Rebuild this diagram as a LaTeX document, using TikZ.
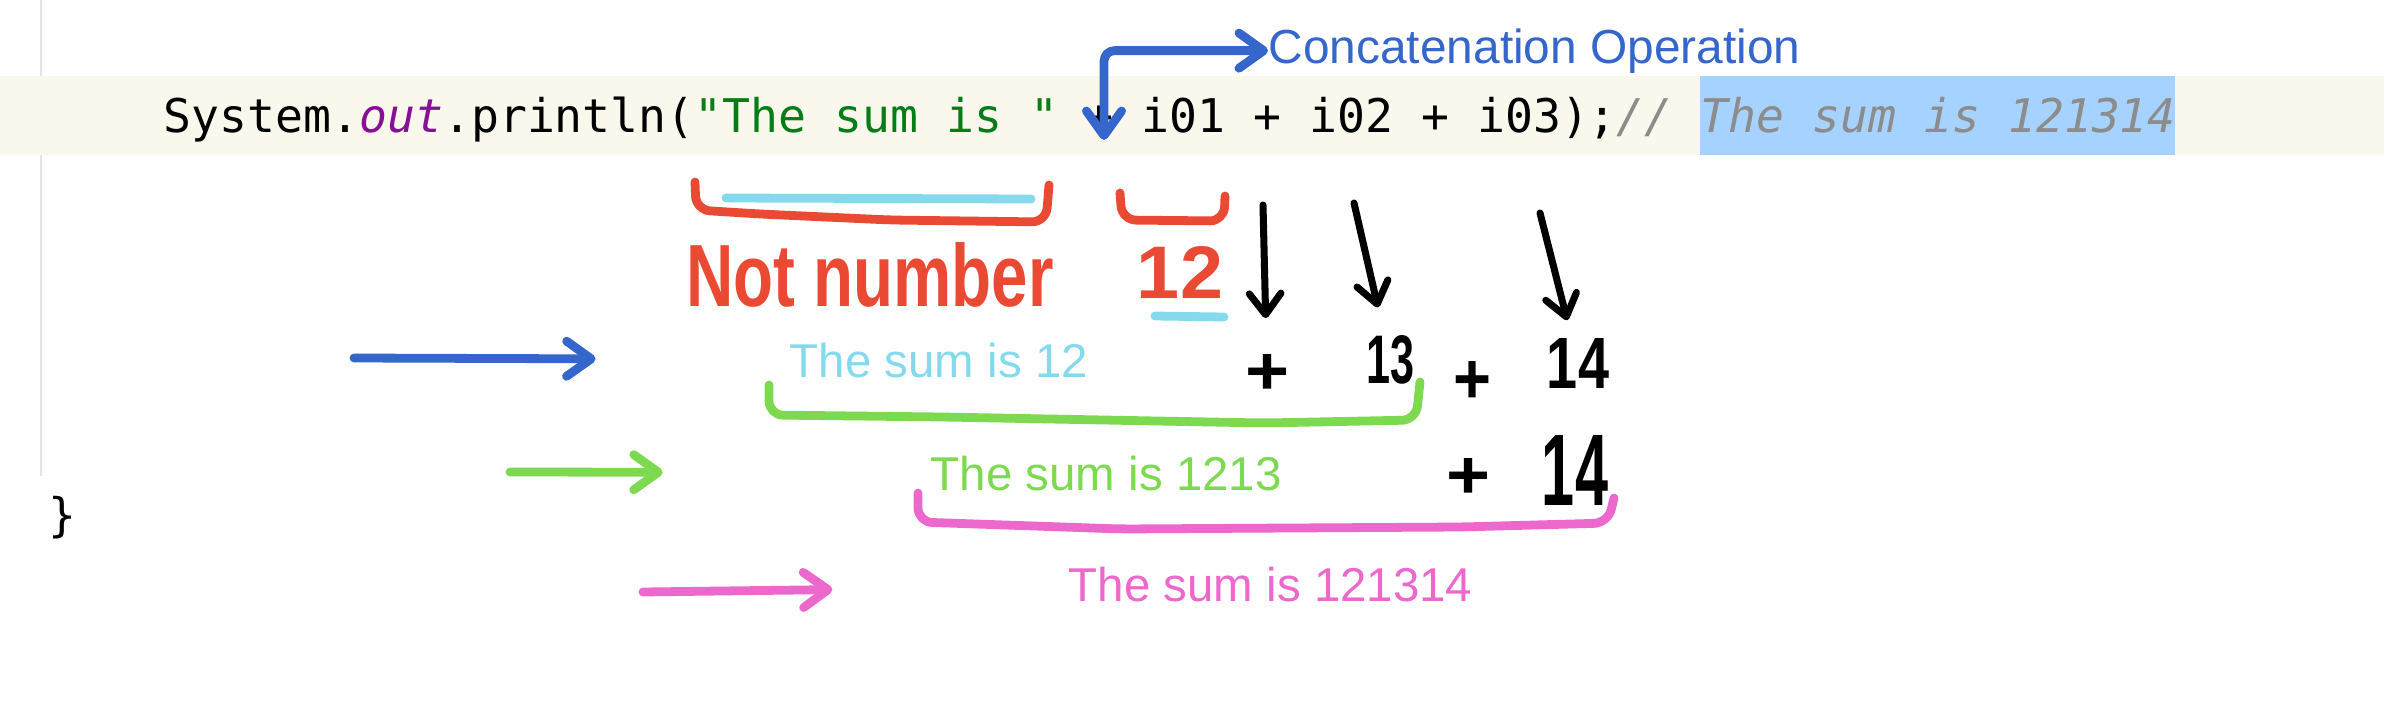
\documentclass[tikz,border=0pt]{standalone}
\usepackage{fontspec}
\setmainfont{Liberation Sans}
\setmonofont{DejaVu Sans Mono}
\usetikzlibrary{arrows.meta}

\definecolor{bandcream}{RGB}{250,248,236}
\definecolor{selblue}{RGB}{166,210,255}
\definecolor{guttergray}{RGB}{228,228,228}
\definecolor{codegreen}{RGB}{6,125,23}
\definecolor{codepurple}{RGB}{135,16,148}
\definecolor{codegray}{RGB}{140,140,140}
\definecolor{markblue}{RGB}{52,102,204}
\definecolor{markred}{RGB}{234,74,52}
\definecolor{markcyan}{RGB}{132,218,236}
\definecolor{markgreen}{RGB}{125,217,80}
\definecolor{markpink}{RGB}{236,104,204}

\begin{document}
\begin{tikzpicture}[
    x=0.01cm, y=-0.01cm,
    % Text styles
    code text/.style={font=\ttfamily\fontsize{13.2pt}{16pt}\selectfont, inner sep=0pt, anchor=base west},
    print label/.style={font=\fontsize{13.5pt}{16pt}\selectfont, inner sep=0pt, anchor=base west},
    hand text/.style={font=\bfseries, inner sep=0pt},
    % Stroke styles
    marker/.style={line width=2.5pt, line cap=round, line join=round},
    marker arrow/.style={marker, -{Straight Barb[round, length=7pt, width=10pt]}},
    pen arrow/.style={line width=2pt, line cap=round, black, -{Straight Barb[round, length=6pt, width=9pt]}},
    bracket/.style={marker, rounded corners=4pt}
]
    \useasboundingbox (0,0) rectangle (2384,712);

    % =========================================================================
    % 1. Editor background
    % =========================================================================
    \draw[guttergray, line width=0.6pt] (41,0) -- (41,476);
    \fill[bandcream] (0,76) rectangle (2384,155);
    \fill[selblue] (1700,76) rectangle (2175,155);

    % =========================================================================
    % 2. Code lines
    % =========================================================================
    \node[code text] (code) at (163,133) {System.\textcolor{codepurple}{\itshape out}.println(\textcolor{codegreen}{"The sum is "} + i01 + i02 + i03);\textcolor{codegray}{\itshape // The sum is 121314}};
    \node[code text] (brace) at (48,531) {\}};

    % =========================================================================
    % 3. Concatenation note
    % =========================================================================
    \node[print label, text=markblue, font=\fontsize{13.6pt}{16pt}\selectfont] (concat) at (1268,63) {Concatenation Operation};
    \coordinate (plus) at (1104,140);
    \draw[marker, markblue, rounded corners=3pt,
          {Straight Barb[round, length=7pt, width=10pt]}-{Straight Barb[round, length=7pt, width=10pt]}]
        (plus) |- (concat.west);

    % =========================================================================
    % 4. Hand notes under the string
    % =========================================================================
    \draw[bracket, markred] (695,182) -- (696,210) -- (760,214) -- (890,220) -- (1046,222) -- (1049,185);
    \draw[marker, markcyan] (726,198) -- (1031,199);
    \draw[bracket, markred] (1120,193) -- (1122,220) -- (1224,221) -- (1225,196);
    \draw[marker, markcyan] (1155,316) -- (1224,317);

    \node[hand text, text=markred] (notnum) at (870,275) {\resizebox{3.67cm}{0.64cm}{Not number}};
    \node[hand text, text=markred] (twelve) at (1180,272) {\resizebox{0.86cm}{0.52cm}{12}};

    % Terms of the sum
    \node[hand text] (plusA) at (1267,374) {\resizebox{0.44cm}{0.40cm}{+}};
    \node[hand text] (n13) at (1390,360) {\resizebox{0.48cm}{0.48cm}{13}};
    \node[hand text] (plusB) at (1472,382) {\resizebox{0.38cm}{0.42cm}{+}};
    \node[hand text] (n14a) at (1578,363) {\resizebox{0.62cm}{0.50cm}{14}};
    \node[hand text] (plusC) at (1468,478) {\resizebox{0.44cm}{0.40cm}{+}};
    \node[hand text] (n14b) at (1575,470) {\resizebox{0.66cm}{0.70cm}{14}};

    \coordinate (d1) at (1263,205);
    \coordinate (d2) at (1354,203);
    \coordinate (d3) at (1540,213);
    \draw[pen arrow, shorten >=10pt] (d1) -- (plusA);
    \draw[pen arrow, shorten >=8pt] (d2) -- (n13);
    \draw[pen arrow, shorten >=5pt] (d3) -- (n14a);

    % =========================================================================
    % 5. Evaluation steps
    % =========================================================================
    \node[print label, text=markcyan] (sum12) at (789,377) {The sum is 12};
    \node[print label, text=markgreen] (sum1213) at (930,490) {The sum is 1213};
    \node[print label, text=markpink] (sum121314) at (1068,601) {The sum is 121314};

    \draw[bracket, markgreen] (769,385) -- (769,415) -- (943,417) -- (1264,423) -- (1416,420) -- (1420,382);
    \draw[bracket, markpink] (918,493) -- (918,522) -- (1121,529) -- (1461,527) -- (1608,523) -- (1614,498);

    \coordinate (b1) at (354,358);
    \coordinate (g1) at (510,472);
    \coordinate (p1) at (643,592);
    \draw[marker arrow, markblue, shorten >=55pt] (b1) -- (sum12);
    \draw[marker arrow, markgreen, shorten >=76pt] (g1) -- (sum1213);
    \draw[marker arrow, markpink, shorten >=67pt] (p1) -- (sum121314);
\end{tikzpicture}
\end{document}
